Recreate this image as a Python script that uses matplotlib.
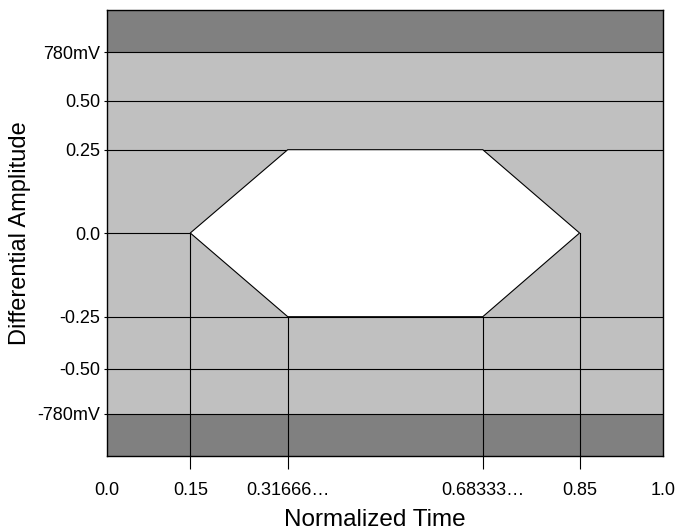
import numpy as np
import matplotlib
matplotlib.use("Agg")
import matplotlib.pyplot as plt
from matplotlib.ticker import FixedLocator, NullFormatter

# ---- data ----
time_ticks = [0.0, 0.15, 19 / 60, 41 / 60, 0.85, 1.0]
time_labels = ["0.0", "0.15", "0.31666…", "0.68333…", "0.85", "1.0"]
amp_ticks = [-0.78, -0.5, -0.25, 0.0, 0.25, 0.5, 0.78]
amp_labels = ["-780mV", "-0.50", "-0.25", "0.0", "0.25", "0.50", "780mV"]
amp_limit = 1.0
eye_x = [0.15, 19 / 60, 41 / 60, 0.85, 41 / 60, 19 / 60]
eye_y = [0.0, 0.25, 0.25, 0.0, -0.25, -0.25]
inner_level = 0.78
grid_levels = [0.5, 0.25, -0.25, -0.5]
drop_x = [0.15, 19 / 60, 41 / 60, 0.85]
drop_top = [0.0, -0.25, -0.25, 0.0]

# ---- non-uniform axis layout (display positions of the levels) ----
x_vals = [0.0, 0.15, 19 / 60, 41 / 60, 0.85, 1.0]
x_pos = [0.0, 0.1497, 0.3249, 0.6755, 0.8495, 1.0]
y_vals = [-1.0, -0.78, -0.5, -0.25, 0.0, 0.25, 0.5, 0.78, 1.0]
y_pos = [-223.0, -181.0, -135.7, -83.7, 0.0, 83.3, 132.3, 180.7, 222.7]

plt.rcParams["font.family"] = ["Liberation Sans", "DejaVu Sans"]

fig = plt.figure(figsize=(6.78, 5.29), dpi=100)
ax = fig.add_axes([107 / 678, 1 - 456 / 529, 556.3 / 678, 445.7 / 529])

ax.set_xscale("function", functions=(lambda v: np.interp(v, x_vals, x_pos),
                                     lambda p: np.interp(p, x_pos, x_vals)))
ax.set_yscale("function", functions=(lambda v: np.interp(v, y_vals, y_pos),
                                     lambda p: np.interp(p, y_pos, y_vals)))
ax.set_xlim(time_ticks[0], time_ticks[-1])
ax.set_ylim(-amp_limit, amp_limit)

dark = "#808080"
light = "#c0c0c0"
lw = 0.8
ax.axhspan(inner_level, amp_limit, color=dark, lw=0, zorder=1)
ax.axhspan(-amp_limit, -inner_level, color=dark, lw=0, zorder=1)
ax.axhspan(-inner_level, inner_level, color=light, lw=0, zorder=1)

for lv in [inner_level, -inner_level] + grid_levels:
    ax.axhline(lv, color="black", lw=lw, zorder=3)

ax.fill(eye_x, eye_y, facecolor="white", edgecolor="black", lw=lw, zorder=4)
ax.plot([time_ticks[0], eye_x[0]], [0.0, 0.0], color="black", lw=lw, zorder=3)
for xv, yt in zip(drop_x, drop_top):
    ax.plot([xv, xv], [yt, -amp_limit], color="black", lw=lw, zorder=3)

for s in ax.spines.values():
    s.set_color("black")
    s.set_linewidth(1.0)
    s.set_zorder(5)

ax.xaxis.remove_overlapping_locs = False
ax.xaxis.set_major_locator(FixedLocator(time_ticks))
ax.set_xticklabels(time_labels)
ax.xaxis.set_minor_locator(FixedLocator(drop_x))
ax.xaxis.set_minor_formatter(NullFormatter())
ax.tick_params(axis="x", which="major", length=0, pad=18.5, labelsize=13)
ax.tick_params(axis="x", which="minor", length=9.4, width=lw, color="black", direction="out")

ax.yaxis.set_major_locator(FixedLocator(amp_ticks))
ax.set_yticklabels(amp_labels)
ax.yaxis.set_minor_locator(FixedLocator([]))
ax.tick_params(axis="y", which="major", length=2, width=lw, pad=3, labelsize=13)

ax.set_xlabel("Normalized Time", fontsize=17.5, va="baseline")
ax.xaxis.set_label_coords((375 - 107) / 556.3, (456 - 525.5) / 445.7)
ax.set_ylabel("Differential Amplitude", fontsize=17, va="center", ha="center",
              rotation_mode="default")
ax.yaxis.set_label_coords((20.5 - 107) / 556.3, 0.5)

fig.savefig("out.png", dpi=100)
